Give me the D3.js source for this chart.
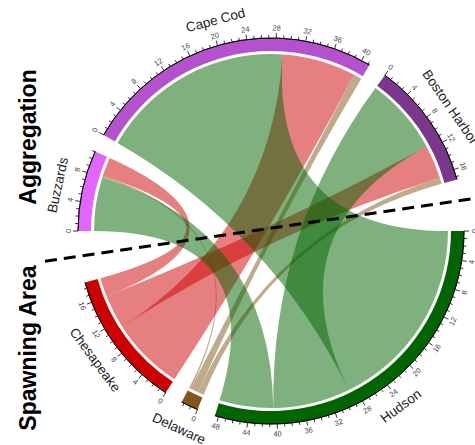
<!DOCTYPE html>
<html>
<head>
<meta charset="utf-8">
<script src="https://cdn.jsdelivr.net/npm/d3@7"></script>
<style>
  body { margin: 0; background: #fff; }
  text { font-family: "Liberation Sans", Arial, sans-serif; }
</style>
</head>
<body>
<svg id="chart" width="475" height="445"></svg>
<script>
// sectors clockwise from 3 o'clock
const sectors = ["Hudson", "Delaware", "Chesapeake", "Buzzards", "Cape Cod", "Boston Harbor"];
const spawning = ["Hudson", "Delaware", "Chesapeake"];
const aggregation = ["Buzzards", "Cape Cod", "Boston Harbor"];
// flows from each spawning area to Buzzards, Cape Cod, Boston Harbor
const hudsonFlows = [8, 29, 11.5];
const delawareFlows = [0.25, 1.2, 0.9];
const chesapeakeFlows = [2.8, 11, 5];
const sectorColors = ["#006400", "#82561a", "#cd0000", "#e066ff", "#b452cd", "#7a378b"];
// order of the link ends inside each sector, from its 0 mark
const linkOrder = {
  "Hudson": ["Cape Cod", "Boston Harbor", "Buzzards"],
  "Delaware": ["Boston Harbor", "Cape Cod", "Buzzards"],
  "Chesapeake": ["Cape Cod", "Boston Harbor", "Buzzards"],
  "Buzzards": ["Hudson", "Delaware", "Chesapeake"],
  "Cape Cod": ["Hudson", "Chesapeake", "Delaware"],
  "Boston Harbor": ["Hudson", "Chesapeake", "Delaware"]
};
const gapsAfter = [5.5, 5.5, 15.5, 5.5, 5.5, 15.5];
const majorStep = 4;
// dashed divider between spawning and aggregation (degrees, clockwise from 3 o'clock)
const dividerAngles = [172.4, 351.1];

const cx = 271, cy = 231;
const rLink = 177, rIn = 180, rOut = 193;

const flows = { "Hudson": hudsonFlows, "Delaware": delawareFlows, "Chesapeake": chesapeakeFlows };
function flow(a, b) {
  if (flows[a]) return flows[a][aggregation.indexOf(b)];
  return flows[b][aggregation.indexOf(a)];
}

const totals = sectors.map(s => d3.sum(linkOrder[s], o => flow(s, o)));
const k = (360 - d3.sum(gapsAfter)) / d3.sum(totals);

let acc = 0;
const layout = sectors.map((s, i) => {
  const start = acc, end = acc + totals[i] * k;
  acc = end + gapsAfter[i];
  return { name: s, total: totals[i], color: sectorColors[i],
           scale: d3.scaleLinear().domain([0, totals[i]]).range([start, end]) };
});
const byName = Object.fromEntries(layout.map(d => [d.name, d]));

// link end positions
const ends = {};
layout.forEach(sec => {
  let v = 0;
  ends[sec.name] = {};
  linkOrder[sec.name].forEach(o => {
    const f = flow(sec.name, o);
    ends[sec.name][o] = [v, v + f];
    v += f;
  });
});

const rad = deg => deg * Math.PI / 180;
const d3a = deg => rad(deg + 90);  // screen degrees -> d3 angle
const px = (deg, r) => cx + r * Math.cos(rad(deg));
const py = (deg, r) => cy + r * Math.sin(rad(deg));
function textRot(deg) {
  const t = ((deg % 360) + 360) % 360;
  return (t > 0 && t < 180) ? t - 90 : t + 90;
}

const svg = d3.select("#chart");
const g = svg.append("g").attr("transform", `translate(${cx},${cy})`);

// ribbons
const ribbon = d3.ribbon();
const drawOrder = ["Delaware", "Chesapeake", "Hudson"];
drawOrder.forEach(s => {
  aggregation.forEach(a => {
    const se = ends[s][a], te = ends[a][s];
    const ss = byName[s].scale, ts = byName[a].scale;
    g.append("path")
      .attr("d", ribbon({
        source: { startAngle: d3a(ss(se[0])), endAngle: d3a(ss(se[1])), radius: rLink },
        target: { startAngle: d3a(ts(te[0])), endAngle: d3a(ts(te[1])), radius: rLink }
      }))
      .attr("fill", byName[s].color)
      .attr("fill-opacity", 0.5);
  });
});

// sector bands
const arc = d3.arc().innerRadius(rIn).outerRadius(rOut);
g.selectAll("path.band")
  .data(layout)
  .join("path")
  .attr("class", "band")
  .attr("d", d => arc({ startAngle: d3a(d.scale.range()[0]), endAngle: d3a(d.scale.range()[1]) }))
  .attr("fill", d => d.color);

// axes
const axisArc = d3.arc().innerRadius(rOut).outerRadius(rOut);
layout.forEach(sec => {
  const [a0, a1] = sec.scale.range();
  g.append("path")
    .attr("d", axisArc({ startAngle: d3a(a0), endAngle: d3a(a1) }))
    .attr("fill", "none").attr("stroke", "#000").attr("stroke-width", 0.8);
  const ticks = d3.range(0, Math.floor(sec.total) + 1);
  ticks.forEach(t => {
    const ang = sec.scale(t);
    const major = t % majorStep === 0;
    svg.append("line")
      .attr("x1", px(ang, rOut)).attr("y1", py(ang, rOut))
      .attr("x2", px(ang, rOut + (major ? 5 : 3))).attr("y2", py(ang, rOut + (major ? 5 : 3)))
      .attr("stroke", "#000").attr("stroke-width", 0.8);
    if (major) {
      svg.append("text")
        .attr("transform", `translate(${px(ang, 203)},${py(ang, 203)}) rotate(${textRot(ang)})`)
        .attr("text-anchor", "middle")
        .attr("dominant-baseline", "central")
        .attr("font-size", 7.5)
        .attr("fill", "#444")
        .text(t);
    }
  });
  const mid = (a0 + a1) / 2;
  svg.append("text")
    .attr("transform", `translate(${px(mid, 218)},${py(mid, 218)}) rotate(${textRot(mid)})`)
    .attr("text-anchor", "middle")
    .attr("dominant-baseline", "central")
    .attr("font-size", 13.5)
    .attr("fill", "#222")
    .text(sec.name);
});

// dashed separator through the two wide gaps
svg.append("line")
  .attr("x1", px(dividerAngles[0], 228)).attr("y1", py(dividerAngles[0], 228))
  .attr("x2", px(dividerAngles[1], 270)).attr("y2", py(dividerAngles[1], 270))
  .attr("stroke", "#000").attr("stroke-width", 3)
  .attr("stroke-dasharray", "12,7");

// group labels
svg.append("text")
  .attr("transform", "translate(36,137) rotate(-90)")
  .attr("text-anchor", "middle")
  .attr("font-size", 23).attr("font-weight", "bold")
  .text("Aggregation");
svg.append("text")
  .attr("transform", "translate(36,348) rotate(-90)")
  .attr("text-anchor", "middle")
  .attr("font-size", 23).attr("font-weight", "bold")
  .text("Spawning Area");
</script>
</body>
</html>
